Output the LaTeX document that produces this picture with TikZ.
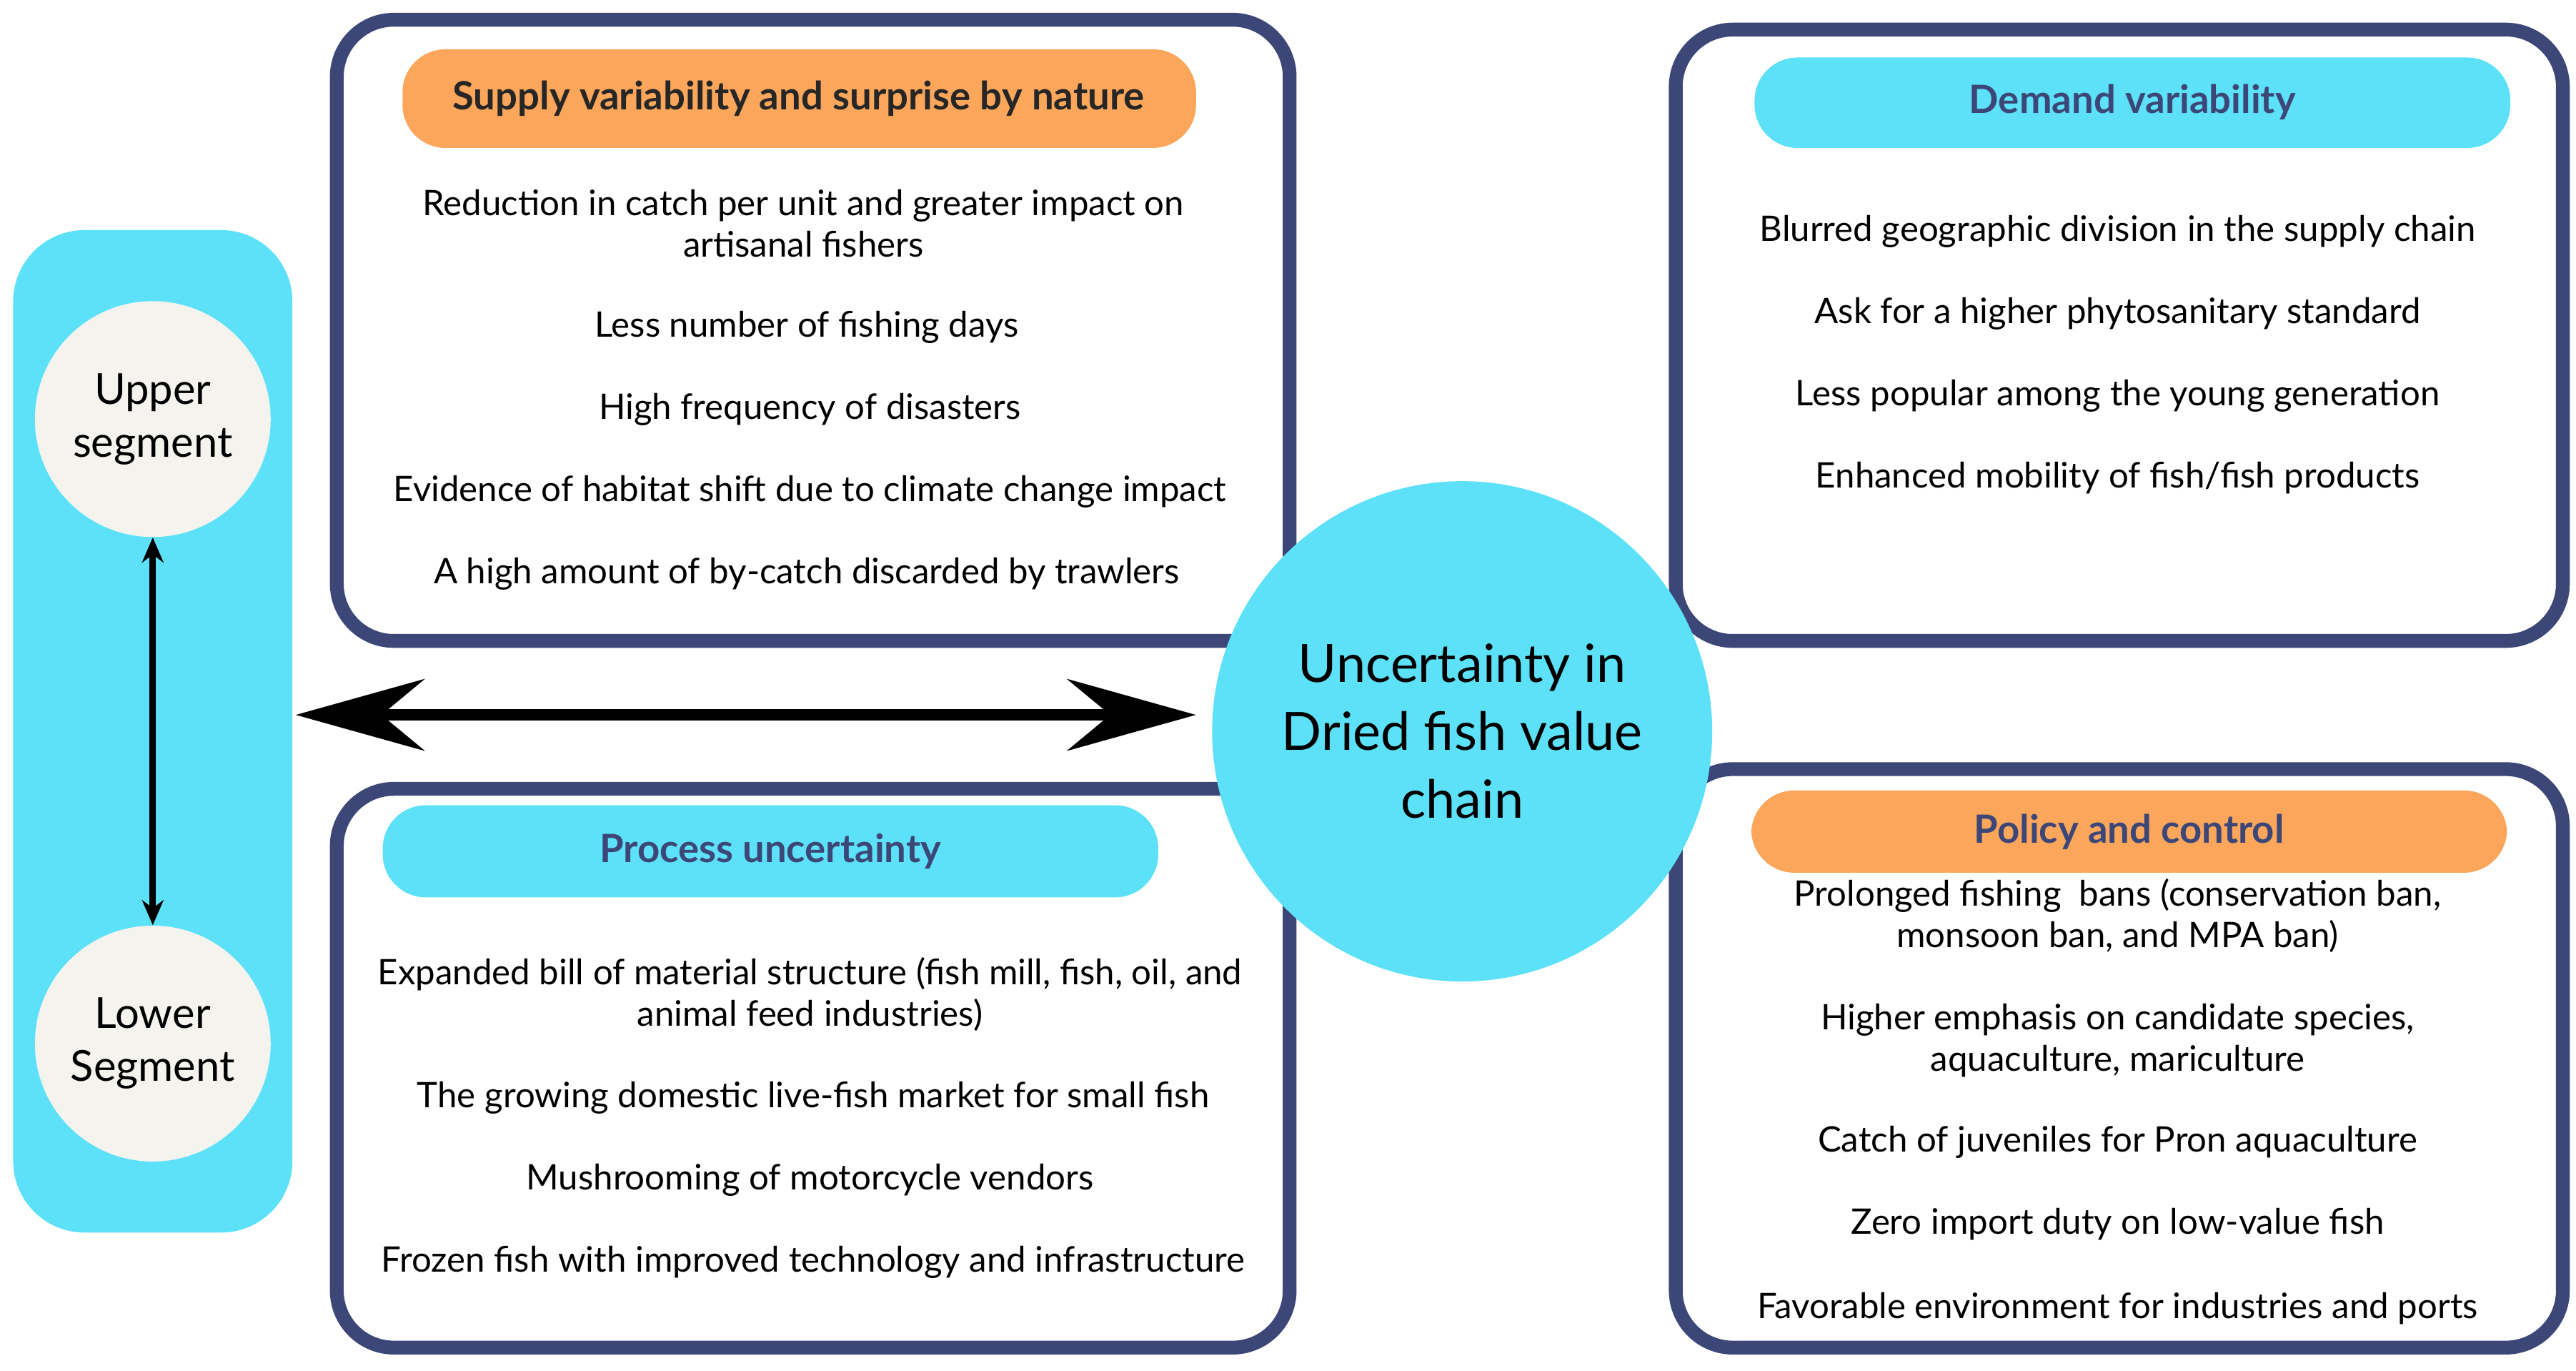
\documentclass[tikz,border=0pt]{standalone}
\usepackage{fontspec}
\setmainfont{Lato}
\usetikzlibrary{arrows.meta}
\definecolor{cy}{HTML}{5CE1F8}
\definecolor{og}{HTML}{FBA65A}
\definecolor{nv}{HTML}{3C4778}
\definecolor{cr}{HTML}{F5F3EE}
\begin{document}
\begin{tikzpicture}[x=0.023cm,y=-0.023cm,
 box/.style={draw=nv,line width=5.5pt,rounded corners=0.8cm,fill=white},
 pill/.style={rounded corners=0.6cm},
 hd/.style={font=\fontsize{15.5}{18}\selectfont\bfseries},
 it/.style={font=\fontsize{14}{16.5}\selectfont,align=center,text=black},
 seg/.style={circle,fill=cr,minimum size=3.3cm,align=center,font=\fontsize{17}{21}\selectfont}]
\useasboundingbox (0,0) rectangle (1568,834);
\fill[white] (0,0) rectangle (1568,834);
% left panel
\fill[cy,rounded corners=1cm] (8,140) rectangle (178,750);
\node[seg] (up) at (93,255) {Upper\\segment};
\node[seg] (lo) at (93,635) {Lower\\Segment};
\draw[line width=2.5pt,{Stealth[length=0.35cm,width=0.3cm]}-{Stealth[length=0.35cm,width=0.3cm]}] (up) -- (lo);
% boxes
\draw[box] (205,12) rectangle (785,390);
\draw[box] (205,480) rectangle (785,820);
\draw[box] (1020,18) rectangle (1560,390);
\draw[box] (1020,468) rectangle (1560,820);
% headers
\fill[og,pill] (245,30) rectangle (728,90);
\node[hd,text=black!85] (h1) at (486,60) {Supply variability and surprise by nature};
\fill[cy,pill] (233,490) rectangle (705,546);
\node[hd,text=nv] (h2) at (469,518) {Process uncertainty};
\fill[cy,pill] (1068,35) rectangle (1528,90);
\node[hd,text=nv] (h3) at (1298,62) {Demand variability};
\fill[og,pill] (1066,481) rectangle (1526,531);
\node[hd,text=nv] (h4) at (1296,506) {Policy and control};
% items box1
\node[it] (a1) at (489,136) {Reduction in catch per unit and greater impact on\\artisanal fishers};
\node[it] (a2) at (491,199) {Less number of fishing days};
\node[it] (a3) at (493,249) {High frequency of disasters};
\node[it] (a4) at (493,299) {Evidence of habitat shift due to climate change impact};
\node[it] (a5) at (491,349) {A high amount of by-catch discarded by trawlers};
% box2
\node[it] (b1) at (493,605) {Expanded bill of material structure (fish mill, fish, oil, and\\animal feed industries)};
\node[it] (b2) at (495,668) {The growing domestic live-fish market for small fish};
\node[it] (b3) at (493,718) {Mushrooming of motorcycle vendors};
\node[it] (b4) at (495,768) {Frozen fish with improved technology and infrastructure};
% box3
\node[it] (c1) at (1289,141) {Blurred geographic division in the supply chain};
\node[it] (c2) at (1289,191) {Ask for a higher phytosanitary standard};
\node[it] (c3) at (1289,241) {Less popular among the young generation};
\node[it] (c4) at (1289,291) {Enhanced mobility of fish/fish products};
% box4
\node[it] (d1) at (1289,557) {Prolonged fishing\ \ bans (conservation ban,\\monsoon ban, and MPA ban)};
\node[it] (d2) at (1289,633) {Higher emphasis on candidate species,\\aquaculture, mariculture};
\node[it] (d3) at (1289,695) {Catch of juveniles for Pron aquaculture};
\node[it] (d4) at (1289,745) {Zero import duty on low-value fish};
\node[it] (d5) at (1289,796) {Favorable environment for industries and ports};
% center
\node[circle,fill=cy,minimum size=7cm,align=center,font=\fontsize{21}{27}\selectfont] (ctr) at (890,445) {Uncertainty in\\Dried fish value\\chain};
% big arrow
\coordinate (l) at (180,435);
\coordinate (r) at (728,435);
\draw[line width=4.5pt,{Stealth[length=1.8cm,width=1cm,inset=0.6cm]}-{Stealth[length=1.8cm,width=1cm,inset=0.6cm]}] (l) -- (r);
\end{tikzpicture}
\end{document}
